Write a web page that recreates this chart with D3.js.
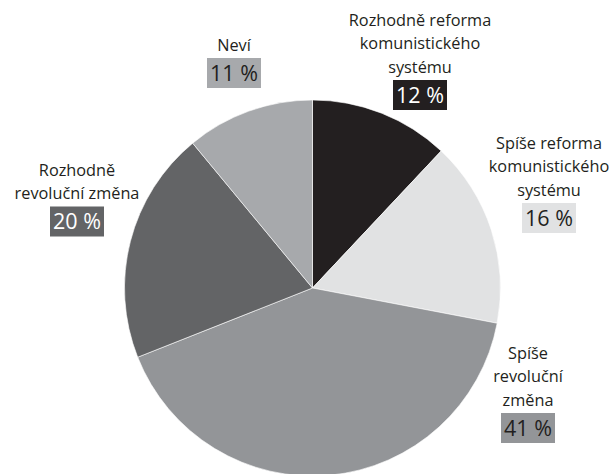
<!DOCTYPE html>
<html>
<head>
<meta charset="utf-8">
<script src="https://cdn.jsdelivr.net/npm/d3@7"></script>
<style>
  body { margin: 0; background: #fff; }
  svg text { font-family: "Open Sans", sans-serif; }
</style>
</head>
<body>
<svg id="chart" width="610" height="474"></svg>
<script>
// data, clockwise from 12 o'clock
const categories = [
  ['Rozhodně reforma', 'komunistického', 'systému'],
  ['Spíše reforma', 'komunistického', 'systému'],
  ['Spíše', 'revoluční', 'změna'],
  ['Rozhodně', 'revoluční změna'],
  ['Neví']
];
const values = [12, 16, 41, 20, 11];
const valueLabels = ['12 %', '16 %', '41 %', '20 %', '11 %'];

const colors = ['#231f20', '#e1e2e3', '#939598', '#636466', '#a7a9ac'];
const boxText = ['#fff', '#231f20', '#231f20', '#fff', '#231f20'];

// where each label block sits (x = centre, y = first line centre)
const labelPos = [
  { x: 420, y: 20 },
  { x: 549, y: 143 },
  { x: 528, y: 353 },
  { x: 77, y: 170 },
  { x: 234, y: 45 }
];

const svg = d3.select('#chart');
const cx = 312.5, cy = 288, r = 188;
const lineH = 23.5;

const pie = d3.pie().sort(null).value(d => d)(values);
const arc = d3.arc().innerRadius(0).outerRadius(r);

svg.append('g')
  .attr('transform', `translate(${cx},${cy})`)
  .selectAll('path')
  .data(pie)
  .enter().append('path')
  .attr('d', arc)
  .attr('fill', (d, i) => colors[i])
  .attr('stroke', '#fff')
  .attr('stroke-width', 0.6);

const labels = svg.append('g')
  .selectAll('g')
  .data(categories)
  .enter().append('g')
  .attr('transform', (d, i) => `translate(${labelPos[i].x},${labelPos[i].y})`);

labels.each(function (lines, i) {
  const g = d3.select(this);
  lines.forEach((t, k) => {
    g.append('text')
      .attr('y', k * lineH)
      .attr('dy', '0.35em')
      .attr('text-anchor', 'middle')
      .attr('font-size', 16.3)
      .attr('fill', '#231f20')
      .text(t);
  });
  const top = (lines.length - 1) * lineH + 13;
  const bw = 54, bh = 30;
  g.append('rect')
    .attr('x', -bw / 2)
    .attr('y', top)
    .attr('width', bw)
    .attr('height', bh)
    .attr('fill', colors[i]);
  g.append('text')
    .attr('y', top + bh / 2)
    .attr('dy', '0.36em')
    .attr('text-anchor', 'middle')
    .attr('font-size', 21.5)
    .attr('fill', boxText[i])
    .text(valueLabels[i]);
});
</script>
</body>
</html>
